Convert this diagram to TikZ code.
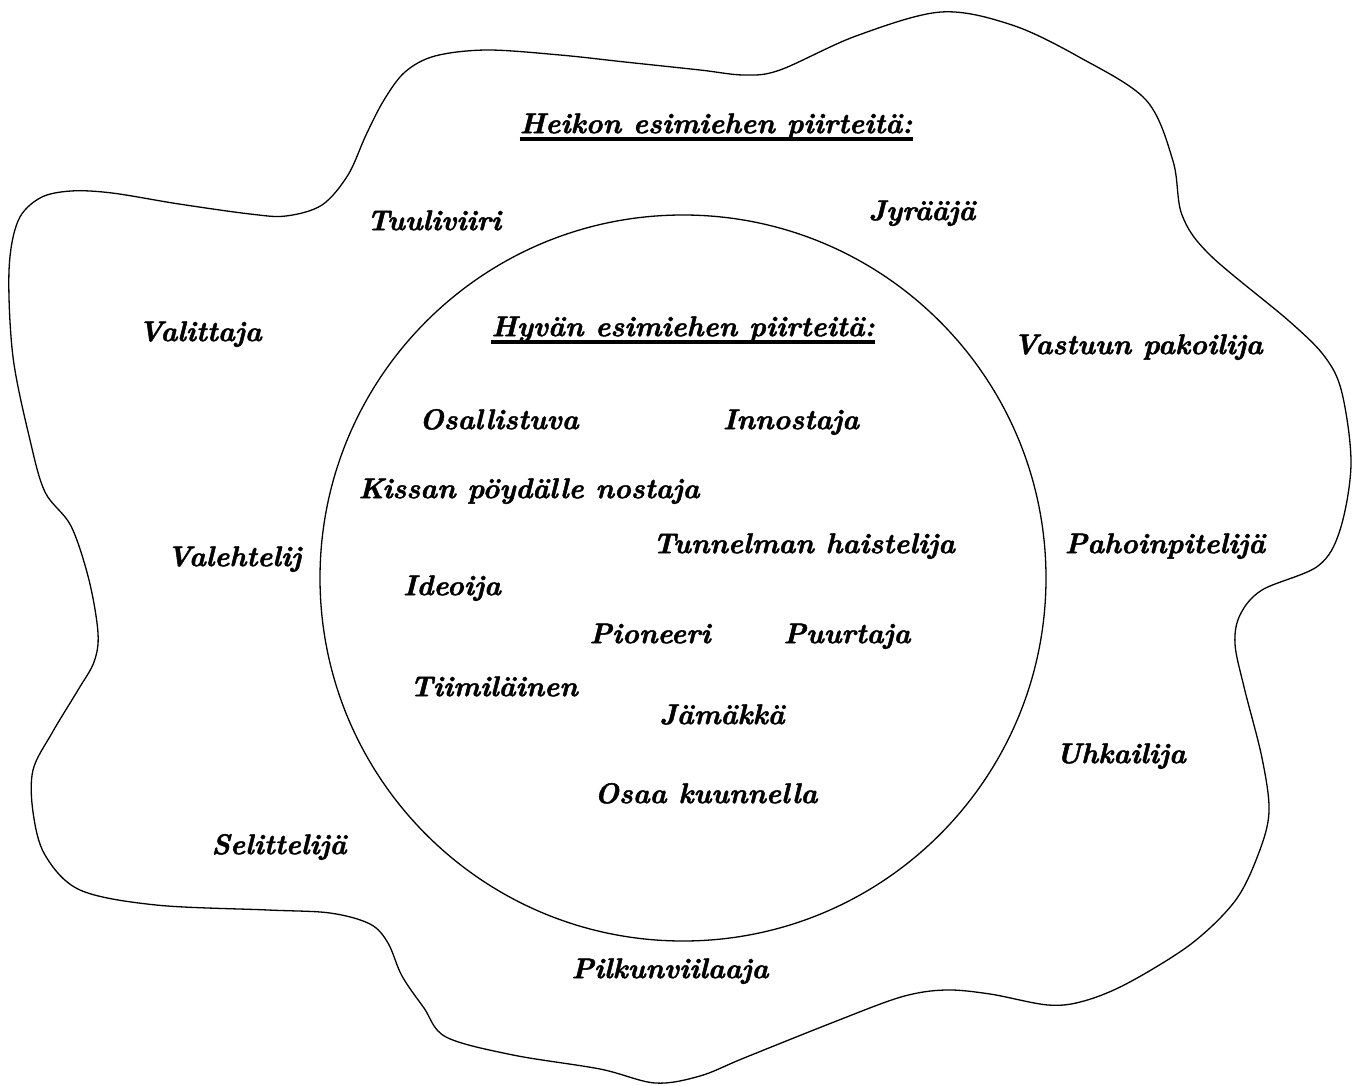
\documentclass[tikz,border=0pt]{standalone}
\usepackage{fontspec}
\newfontfamily\scrfont{lmroman10}[Extension=.otf,UprightFont=*-bolditalic,FakeBold=1.6]
\begin{document}
\begin{tikzpicture}[x=1pt,y=-1pt,
  lbl/.style={anchor=mid,inner sep=0pt,yshift=-4pt,font=\fontsize{28.5}{32}\selectfont\scrfont},
  ulined/.style={line width=4pt},
  outline/.style={line width=1.3pt}]
\useasboundingbox (0,0) rectangle (1355,1086);
% outer blob
\draw[outline] plot[smooth cycle,tension=0.55] coordinates {
 (487,50) (560,55) (625,62) (700,70) (744,75) (780,70) (856,36) (941,12) (1012,25)
 (1079,57) (1146,100) (1173,161) (1182,215) (1210,255) (1289,321) (1325,357)
 (1342,393) (1351,464) (1340,530) (1318,566) (1262,590) (1240,615) (1235,644)
 (1244,687) (1262,758) (1269,812) (1258,855) (1235,901) (1191,944) (1128,983)
 (1084,1001) (1048,1005) (990,994) (945,990) (901,997) (834,1022) (744,1058)
 (700,1076) (655,1083) (600,1069) (513,1055) (446,1037) (424,1008) (402,976)
 (388,943) (370,924) (330,913) (268,910) (156,905) (80,890) (45,855) (33,812)
 (33,770) (52,733) (78,690) (94,662) (98,633) (89,580) (71,526) (45,492)
 (30,440) (13,357) (9,271) (18,221) (40,198) (71,191) (112,193) (179,204)
 (250,214) (286,216) (322,205) (348,175) (366,135) (384,100) (405,72) (435,56)};
% inner circle
\node[circle,draw,outline,minimum size=726pt,inner sep=0pt] (ring) at (683,578) {};
% headings
\node[lbl] (heikon) at (716,127) {Heikon esimiehen piirteitä:};
\draw[ulined] ([yshift=-6pt]heikon.base west) -- ([yshift=-6pt]heikon.base east);
\node[lbl] (hyvan) at (683,330) {Hyvän esimiehen piirteitä:};
\draw[ulined] ([yshift=-6pt]hyvan.base west) -- ([yshift=-6pt]hyvan.base east);
% weak traits
\node[lbl] (tuuli) at (434,224) {Tuuliviiri};
\node[lbl] (valit) at (200,335) {Valittaja};
\node[lbl] (jyra) at (922,214) {Jyrääjä};
\node[lbl] (vastuu) at (1138,348) {Vastuun pakoilija};
\node[lbl] (pahoin) at (1165,547) {Pahoinpitelijä};
\node[lbl] (valeh) at (234,560) {Valehtelij};
\node[lbl] (uhka) at (1121,757) {Uhkailija};
\node[lbl] (selit) at (279,848) {Selittelijä};
\node[lbl] (pilkun) at (670,972) {Pilkunviilaaja};
% good traits
\node[lbl] (osall) at (499,423) {Osallistuva};
\node[lbl] (innos) at (791,423) {Innostaja};
\node[lbl] (kissa) at (529,492) {Kissan pöydälle nostaja};
\node[lbl] (tunnel) at (804,547) {Tunnelman haistelija};
\node[lbl] (ideo) at (452,589) {Ideoija};
\node[lbl] (pion) at (650,637) {Pioneeri};
\node[lbl] (puur) at (847,637) {Puurtaja};
\node[lbl] (tiimi) at (494,690) {Tiimiläinen};
\node[lbl] (jama) at (722,718) {Jämäkkä};
\node[lbl] (osaa) at (706,797) {Osaa kuunnella};
\end{tikzpicture}
\end{document}
